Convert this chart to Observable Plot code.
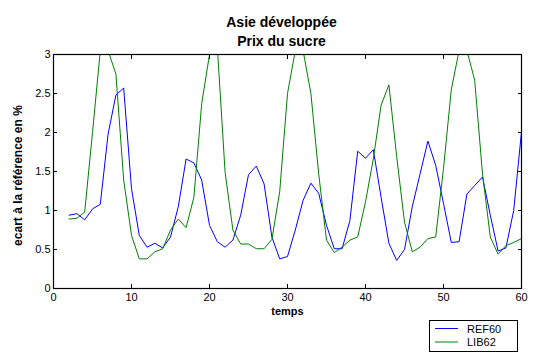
<!DOCTYPE html>
<html><head><meta charset="utf-8">
<script src="https://cdn.jsdelivr.net/npm/d3@7"></script>
<script src="https://cdn.jsdelivr.net/npm/@observablehq/plot@0.6"></script>
<style>
body{margin:0;background:#fff;font-family:"Liberation Sans",Arial,sans-serif}
#wrap{position:relative;width:533px;height:356px;overflow:hidden}
#legend{position:absolute;left:429px;top:320px}
</style></head><body><div id="wrap"></div>
<script>
const time = d3.range(2, 61);
const ref60 = [0.94,0.96,0.88,1.02,1.08,1.98,2.48,2.57,1.28,0.68,0.53,0.58,0.52,0.66,1.05,1.66,1.61,1.39,0.81,0.60,
  0.53,0.62,0.94,1.46,1.57,1.34,0.66,0.38,0.41,0.75,1.13,1.35,1.22,0.81,0.51,0.51,0.87,1.76,1.67,1.78,
  1.17,0.58,0.36,0.50,1.05,1.47,1.89,1.58,1.09,0.59,0.60,1.21,1.32,1.43,0.94,0.48,0.52,1.00,2.01];
const lib62 = [0.89,0.90,0.98,2.00,3.05,3.05,2.75,1.39,0.68,0.38,0.38,0.47,0.51,0.75,0.89,0.78,1.17,2.37,3.00,3.10,
  1.49,0.75,0.57,0.57,0.51,0.51,0.63,1.24,2.50,3.05,3.05,2.50,1.47,0.62,0.46,0.53,0.62,0.66,1.11,1.66,
  2.35,2.61,1.69,0.85,0.47,0.53,0.64,0.66,1.54,2.55,3.05,3.05,2.67,1.47,0.66,0.44,0.55,0.59,0.64];
const xTicks = [0,10,20,30,40,50,60];
const yTicks = [0,0.5,1,1.5,2,2.5,3];
const seriesNames = ["REF60","LIB62"];
const seriesColors = ["#0000ff","#008000"];
const titleLines = ["Asie développée","Prix du sucre"];
const xLabel = "temps";
const yLabel = "ecart à la référence en %";

const data = [
  ...time.map((t,i)=>({t, v: ref60[i], s: seriesNames[0]})),
  ...time.map((t,i)=>({t, v: lib62[i], s: seriesNames[1]}))
];

const font = "'Liberation Sans', Arial, sans-serif";
const fmt = d => String(d);
const blank = () => "";
const chart = Plot.plot({
  width: 533, height: 356,
  marginTop: 54, marginBottom: 68, marginLeft: 53, marginRight: 12,
  x: {domain: [0, 60]},
  y: {domain: [0, 3]},
  color: {domain: seriesNames, range: seriesColors},
  style: {fontFamily: font, fontSize: "11px", color: "#000", background: "#fff", overflow: "visible"},
  marks: [
    Plot.line(data, {x: "t", y: "v", stroke: "s", z: "s", strokeWidth: 1, clip: true}),
    Plot.frame({stroke: "#000", strokeWidth: 1.2}),
    // labels
    Plot.axisX({ticks: xTicks, tickSize: 0, tickPadding: 5, tickFormat: fmt, label: null, anchor: "bottom"}),
    Plot.axisY({ticks: yTicks, tickSize: 0, tickPadding: 3, tickFormat: fmt, label: null, anchor: "left"}),
    // inward ticks
    Plot.axisX({ticks: xTicks, tickSize: 4, dy: -4, tickFormat: blank, label: null, anchor: "bottom", strokeOpacity: 1}),
    Plot.axisX({ticks: xTicks, tickSize: 4, dy: 4, tickFormat: blank, label: null, anchor: "top", strokeOpacity: 1}),
    Plot.axisY({ticks: yTicks, tickSize: 4, dx: 4, tickFormat: blank, label: null, anchor: "left", strokeOpacity: 1}),
    Plot.axisY({ticks: yTicks, tickSize: 4, dx: -4, tickFormat: blank, label: null, anchor: "right", strokeOpacity: 1}),
    Plot.text([xLabel], {frameAnchor: "bottom", dy: 26, fontWeight: "bold", fontSize: 11}),
    Plot.text([yLabel], {frameAnchor: "left", textAnchor: "middle", dx: -35, dy: 4, rotate: -90, fontWeight: "bold", fontSize: 12}),
    Plot.text([titleLines[0]], {frameAnchor: "top", dx: -6, dy: -37, fontWeight: "bold", fontSize: 14}),
    Plot.text([titleLines[1]], {frameAnchor: "top", dx: -6, dy: -18, fontWeight: "bold", fontSize: 14})
  ]
});
const wrap = document.getElementById("wrap");
wrap.appendChild(chart);

// legend
const lg = d3.select(wrap).append("svg").attr("id", "legend")
  .attr("width", 90).attr("height", 33);
lg.append("rect").attr("x", 0.5).attr("y", 0.5).attr("width", 88).attr("height", 31)
  .attr("fill", "#fff").attr("stroke", "#000");
seriesNames.forEach((n, i) => {
  const y = 8.5 + i * 13.5;
  lg.append("line").attr("x1", 6).attr("x2", 29).attr("y1", y).attr("y2", y)
    .attr("stroke", seriesColors[i]).attr("stroke-width", 1);
  lg.append("text").attr("x", 38).attr("y", y + 4).text(n)
    .attr("font-family", font).attr("font-size", 11).attr("fill", "#000");
});
</script>
</body></html>
